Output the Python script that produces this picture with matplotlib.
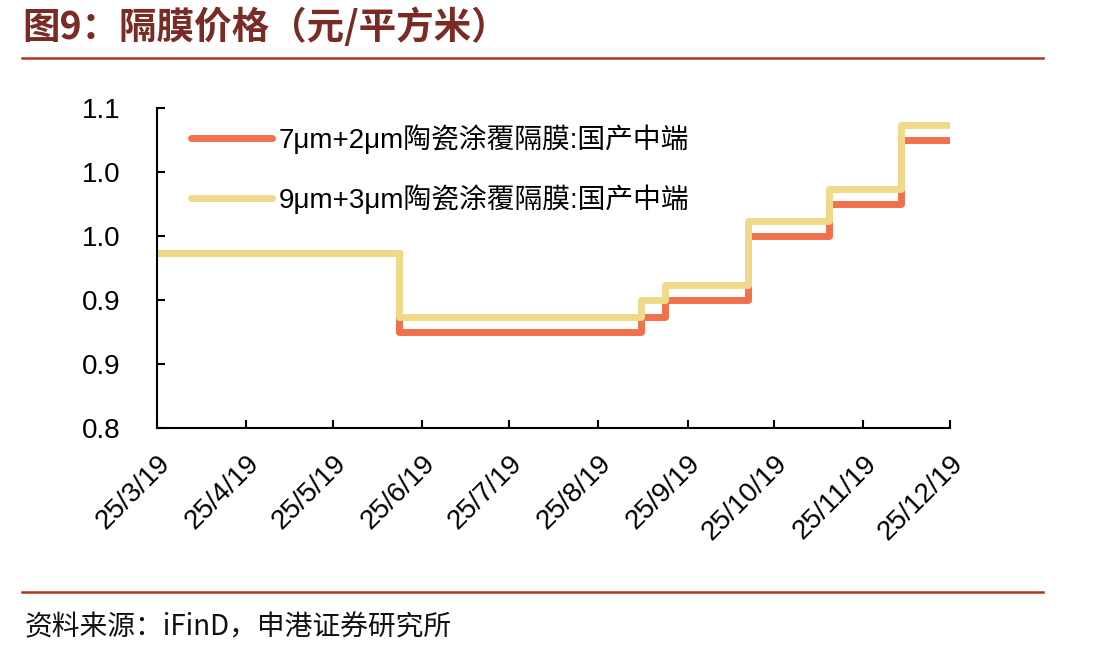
import matplotlib
matplotlib.use("Agg")
import matplotlib.pyplot as plt
import pandas as pd
from matplotlib.lines import Line2D

plt.rcParams['font.family'] = ['Liberation Sans', 'Noto Sans CJK SC', 'DejaVu Sans']

# ---- data ----
change_dates = ['2025-03-19', '2025-06-11', '2025-09-03', '2025-09-11',
                '2025-10-10', '2025-11-07', '2025-12-02', '2025-12-19']
price_7_2 = [0.937, 0.875, 0.887, 0.900, 0.950, 0.975, 1.025, 1.025]
price_9_3 = [0.937, 0.887, 0.900, 0.912, 0.962, 0.987, 1.037, 1.037]
series_names = ['7μm+2μm陶瓷涂覆隔膜:国产中端', '9μm+3μm陶瓷涂覆隔膜:国产中端']
x_ticks = ['2025-03-19', '2025-04-19', '2025-05-19', '2025-06-19', '2025-07-19',
           '2025-08-19', '2025-09-19', '2025-10-19', '2025-11-19', '2025-12-19']
x_tick_labels = ['25/3/19', '25/4/19', '25/5/19', '25/6/19', '25/7/19',
                 '25/8/19', '25/9/19', '25/10/19', '25/11/19', '25/12/19']
y_ticks = [0.80, 0.85, 0.90, 0.95, 1.00, 1.05]
y_tick_labels = ['0.8', '0.9', '0.9', '1.0', '1.0', '1.1']
title = '图9：隔膜价格（元/平方米）'
source = '资料来源：iFinD，申港证券研究所'

colors = ['#F0714B', '#F0D98A']

fig = plt.figure(figsize=(10.93, 6.56), dpi=100)
ax = fig.add_axes([157/1093, 1-428/656, (950-157)/1093, (428-108)/656])

d = pd.to_datetime(change_dates)
ax.plot(d, price_7_2, drawstyle='steps-post', color=colors[0], lw=5,
        solid_capstyle='round', solid_joinstyle='round')
ax.plot(d, price_9_3, drawstyle='steps-post', color=colors[1], lw=5,
        solid_capstyle='round', solid_joinstyle='round')

ax.set_xlim(pd.Timestamp('2025-03-19'), pd.Timestamp('2025-12-19'))
ax.set_ylim(0.80, 1.05)
ax.set_xticks(pd.to_datetime(x_ticks))
ax.set_xticklabels(x_tick_labels, rotation=45, ha='right', va='top',
                   rotation_mode='anchor', fontsize=20)
ax.set_yticks(y_ticks)
ax.set_yticklabels(y_tick_labels, fontsize=20)
ax.tick_params(axis='y', direction='in', length=6, width=1.5, pad=26)
ax.tick_params(axis='x', direction='in', length=6, width=1.5, pad=16)
for s in ['top', 'right']:
    ax.spines[s].set_visible(False)
for s in ['left', 'bottom']:
    ax.spines[s].set_linewidth(1.5)

handles = [Line2D([], [], color=c, lw=5, solid_capstyle='round') for c in colors]
leg = ax.legend(handles, series_names, loc='upper left',
                bbox_to_anchor=(191/1093, 1-124/656), bbox_transform=fig.transFigure,
                frameon=False, fontsize=20, handlelength=2.9, handletextpad=0.25,
                labelspacing=1.1, borderaxespad=0, borderpad=0)

# title and rules
fig.text(22/1093, 1-27/656, title, fontsize=27, fontweight='bold', color='#7A2C24',
         ha='left', va='center', family=['Noto Sans CJK SC'])
fig.add_artist(Line2D([22/1093, 1043/1093], [1-58/656, 1-58/656], color='#A9391F', lw=1.8))
fig.add_artist(Line2D([22/1093, 1043/1093], [1-592/656, 1-592/656], color='#A9391F', lw=1.8))
fig.text(25/1093, 1-627/656, source, fontsize=20, style='italic', color='#111111',
         ha='left', va='center', family=['Noto Sans CJK SC', 'DejaVu Sans'])

fig.savefig('out.png', dpi=100)
